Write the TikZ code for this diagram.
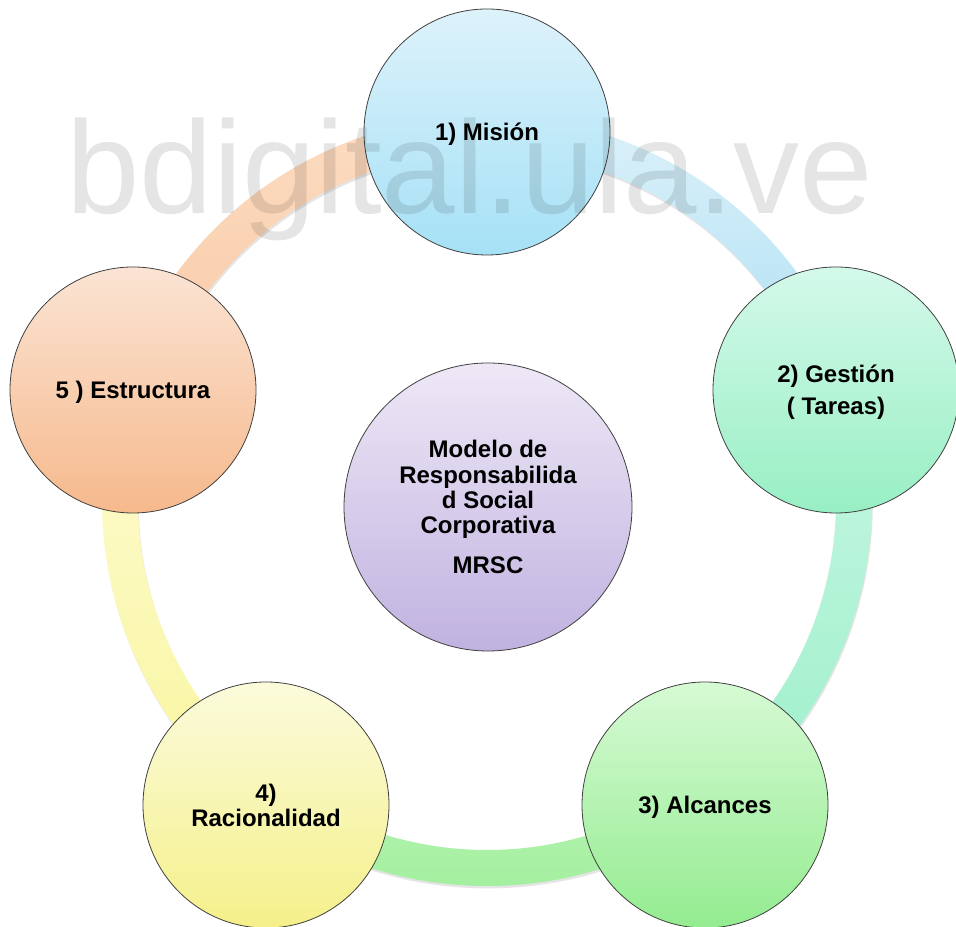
\documentclass[tikz,border=0pt]{standalone}
\usepackage{fontspec}
\setmainfont{Liberation Sans}
\usetikzlibrary{calc}
\definecolor{misA}{HTML}{DDF2FB}
\definecolor{misB}{HTML}{A6E1F6}
\definecolor{gesA}{HTML}{D4F9EA}
\definecolor{gesB}{HTML}{98EFC4}
\definecolor{alcA}{HTML}{D6FAD4}
\definecolor{alcB}{HTML}{94EC90}
\definecolor{racA}{HTML}{FBFBDC}
\definecolor{racB}{HTML}{F5F08A}
\definecolor{estA}{HTML}{FBE4D4}
\definecolor{estB}{HTML}{F6B98C}
\definecolor{cenA}{HTML}{EEE8F6}
\definecolor{cenB}{HTML}{C0B2E0}
\definecolor{sgOA}{HTML}{FCDCC2}
\definecolor{sgOB}{HTML}{F8C9A4}
\definecolor{sgBA}{HTML}{DCF1FA}
\definecolor{sgBB}{HTML}{ACDFF3}
\definecolor{sgMA}{HTML}{C8F7E4}
\definecolor{sgMB}{HTML}{9CEFC9}
\definecolor{sgGA}{HTML}{B6F4B2}
\definecolor{sgGB}{HTML}{A0EE9C}
\definecolor{sgYA}{HTML}{FDFCD2}
\definecolor{sgYB}{HTML}{F9F59E}
\newcommand\bubblefont{\fontsize{18pt}{19pt}\selectfont\bfseries}
\newcommand\ringseg[4]{%
  \fill[black,opacity=0.10]
    ($(rc)+(#1:288.75pt)+(0.6pt,-1.8pt)$) arc[start angle=#1,end angle=#2,radius=288.75pt]
    -- ($(rc)+(#2:261.75pt)+(0.6pt,-1.8pt)$) arc[start angle=#2,end angle=#1,radius=261.75pt] -- cycle;
  \shade[top color=#3,bottom color=#4]
    ($(rc)+(#1:288.75pt)$) arc[start angle=#1,end angle=#2,radius=288.75pt]
    -- ($(rc)+(#2:261.75pt)$) arc[start angle=#2,end angle=#1,radius=261.75pt] -- cycle;
}
\tikzset{
  bubble/.style={circle, minimum size=184.5pt, inner sep=0pt, draw=black!75,
    line width=0.6pt, align=center, font=\bubblefont, text depth=0pt},
}
\begin{document}
\begin{tikzpicture}[x=0.75pt,y=0.75pt]
\useasboundingbox (0,0) rectangle (956,927);
\clip (0,0) rectangle (956,927);
\fill[white] (0,0) rectangle (956,927);
\coordinate (rc) at (487,426);
% ring segments
\ringseg{162}{90}{sgOA}{sgOB}
\ringseg{90}{18}{sgBA}{sgBB}
\ringseg{18}{-54}{sgMA}{sgMB}
\ringseg{-54}{-126}{sgGA}{sgGB}
\ringseg{-126}{-198}{sgYA}{sgYB}
% circles
\node[bubble, top color=misA, bottom color=misB] (mision) at (487,795) {1) Misión};
\node[bubble, top color=gesA, bottom color=gesB] (gestion) at (836,537) {2) Gestión\\[5pt]( Tareas)};
\node[bubble, top color=alcA, bottom color=alcB] (alcances) at (705,122) {3) Alcances};
\node[bubble, top color=racA, bottom color=racB] (racional) at (266,122) {4)\\Racionalidad};
\node[bubble, top color=estA, bottom color=estB] (estructura) at (133,537) {5 ) Estructura};
\node[bubble, minimum size=216pt, top color=cenA, bottom color=cenB] (mrsc) at (488,420)
  {Modelo de\\Responsabilida\\d Social\\Corporativa\\[11pt]MRSC};
% watermark
\node[anchor=base west, inner sep=0pt, text=black, text opacity=0.10,
  font=\fontsize{99pt}{99pt}\selectfont] (wm) at (66,713) {bdigital.ula.ve};
\end{tikzpicture}
\end{document}
